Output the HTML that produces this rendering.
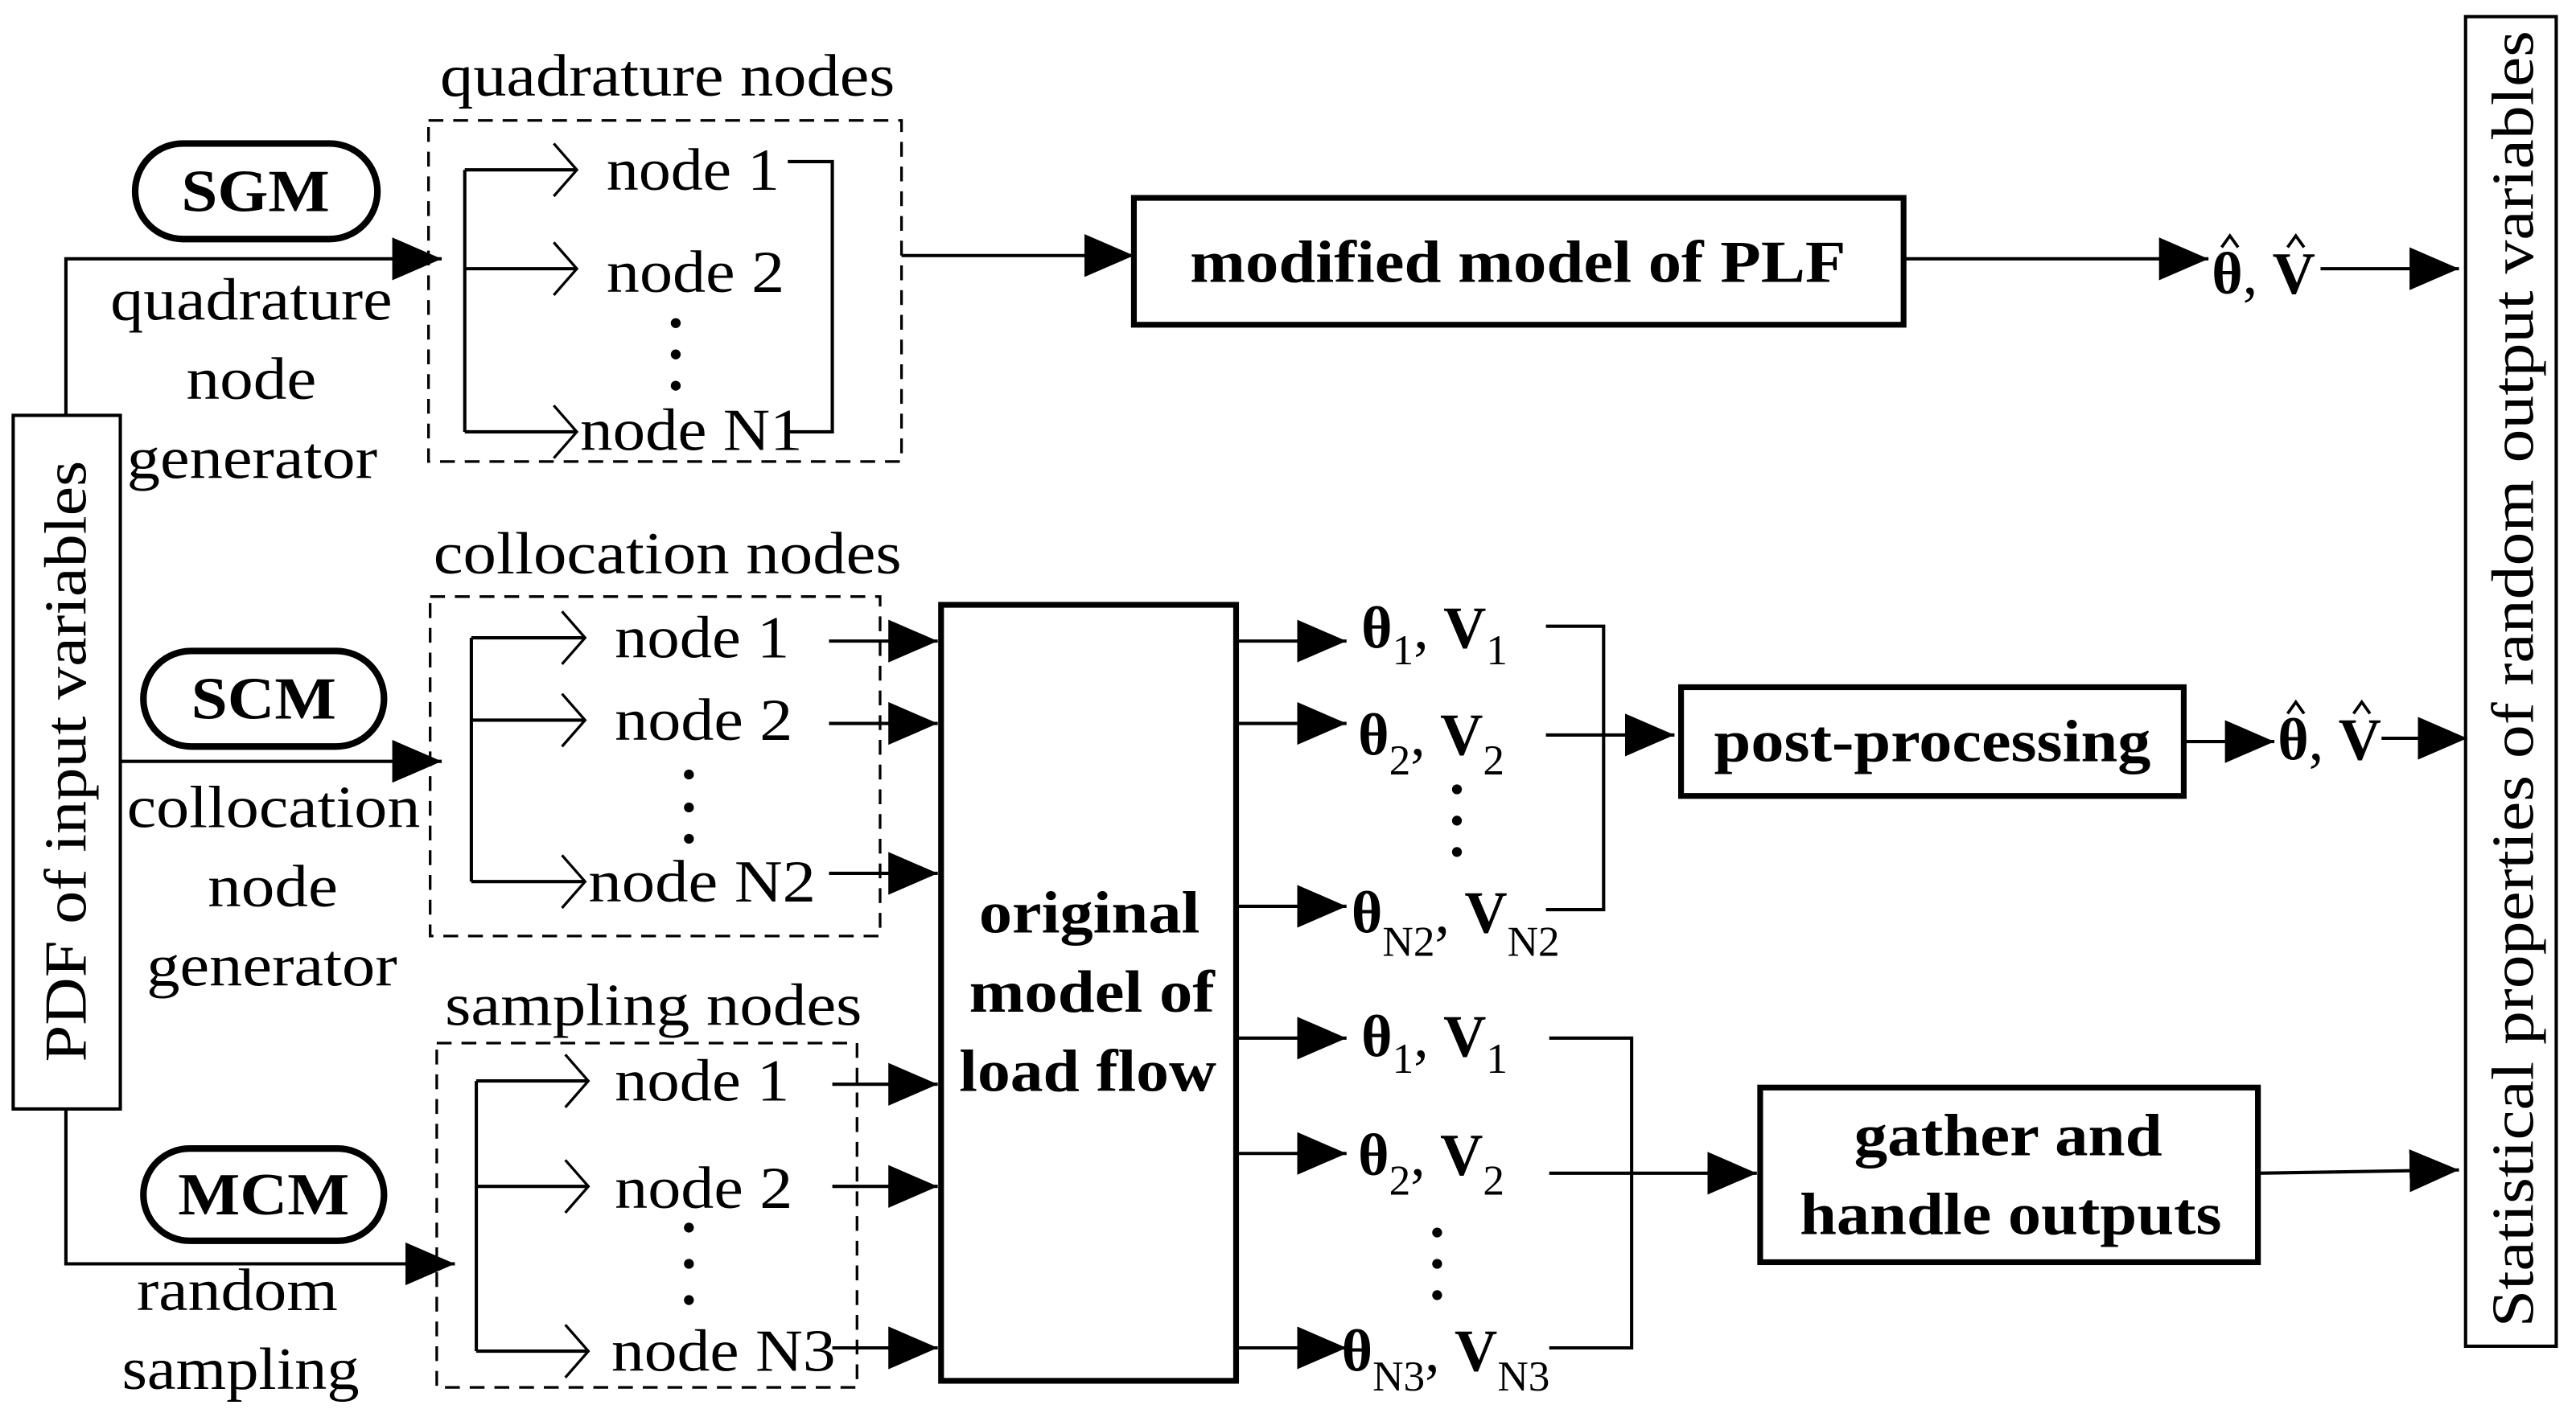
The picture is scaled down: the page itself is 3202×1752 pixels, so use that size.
<!DOCTYPE html>
<html><head><meta charset="utf-8"><style>
html,body{margin:0;padding:0;background:#fff}
svg{display:block}
text{font-family:"Liberation Serif",serif;fill:#000}
.b{font-weight:bold}
</style></head><body>
<svg width="3202" height="1752" viewBox="0 0 1563 855" xmlns="http://www.w3.org/2000/svg">
<defs>
<marker id="a" markerWidth="32" markerHeight="26" refX="30" refY="13" orient="auto" markerUnits="userSpaceOnUse"><path d="M0,0 L30,13 L0,26 Z" fill="#000"/></marker>
<marker id="o" markerWidth="16" markerHeight="34" refX="15" refY="17" orient="auto" markerUnits="userSpaceOnUse"><path d="M1,1 L15,17 L1,33" fill="none" stroke="#000" stroke-width="1.6"/></marker>
</defs>
<g stroke="#000" stroke-width="2" fill="none">
<rect x="8" y="252" width="65" height="421"/>
<path d="M40,252 V157 H268" marker-end="url(#a)"/>
<path d="M73,462 H268" marker-end="url(#a)"/>
<path d="M40,673 V767 H276" marker-end="url(#a)"/>
<rect x="82" y="87" width="147" height="58" rx="29" stroke-width="4"/>
<rect x="87" y="395" width="146" height="58" rx="29" stroke-width="4"/>
<rect x="87" y="697" width="146" height="56" rx="28" stroke-width="4"/>
<rect x="260" y="73" width="287" height="207" stroke-dasharray="9,6" stroke-width="1.6"/>
<rect x="261" y="362" width="273" height="206" stroke-dasharray="9,6" stroke-width="1.6"/>
<rect x="265" y="633" width="255" height="209" stroke-dasharray="9,6" stroke-width="1.6"/>
<path d="M282,103 V262"/>
<path d="M282,103 H350" marker-end="url(#o)"/><path d="M282,163 H350" marker-end="url(#o)"/><path d="M282,262 H350" marker-end="url(#o)"/>
<path d="M478,98 H505 V262 H478"/>
<path d="M547,155 H688" marker-end="url(#a)"/>
<path d="M286,387 V535"/>
<path d="M286,387 H355" marker-end="url(#o)"/><path d="M286,437 H355" marker-end="url(#o)"/><path d="M286,535 H355" marker-end="url(#o)"/>
<path d="M503,389 H569" marker-end="url(#a)"/><path d="M503,439 H569" marker-end="url(#a)"/><path d="M503,530 H569" marker-end="url(#a)"/>
<path d="M289,656 V820"/>
<path d="M289,656 H357" marker-end="url(#o)"/><path d="M289,720 H357" marker-end="url(#o)"/><path d="M289,820 H357" marker-end="url(#o)"/>
<path d="M505,658 H569" marker-end="url(#a)"/><path d="M505,720 H569" marker-end="url(#a)"/><path d="M505,818 H569" marker-end="url(#a)"/>
<rect x="688" y="120" width="467" height="77" stroke-width="3.5"/>
<rect x="571" y="367" width="179" height="471" stroke-width="3.5"/>
<rect x="1020" y="417" width="305" height="66" stroke-width="3.5"/>
<rect x="1068" y="660" width="302" height="106" stroke-width="3.5"/>
<rect x="1496" y="10" width="55" height="807"/>
<path d="M1155,157 H1340" marker-end="url(#a)"/>
<path d="M1408,163 H1492" marker-end="url(#a)"/>
<path d="M750,389 H817" marker-end="url(#a)"/><path d="M750,439 H817" marker-end="url(#a)"/><path d="M750,550 H817" marker-end="url(#a)"/>
<path d="M750,630 H817" marker-end="url(#a)"/><path d="M750,700 H817" marker-end="url(#a)"/><path d="M750,818 H817" marker-end="url(#a)"/>
<path d="M938,380 H973 V552 H938"/>
<path d="M938,446 H1016" marker-end="url(#a)"/>
<path d="M1325,450 H1380" marker-end="url(#a)"/>
<path d="M1445,448 H1497" marker-end="url(#a)"/>
<path d="M940,630 H990 V818 H940"/>
<path d="M940,712 H1066" marker-end="url(#a)"/>
<path d="M1370,712 L1492,710" marker-end="url(#a)"/>
<!-- hats -->
<g stroke-width="1.8">
<path d="M1348,150 L1353,143 L1358,150"/><path d="M1388,150 L1393,143 L1398,150"/>
<path d="M1388,433 L1393,426 L1398,433"/><path d="M1428,433 L1433,426 L1438,433"/>
</g>
</g>
<g fill="#000">
<circle cx="410" cy="196" r="3"/><circle cx="410" cy="215" r="3"/><circle cx="410" cy="234" r="3"/>
<circle cx="418" cy="470" r="3"/><circle cx="418" cy="490" r="3"/><circle cx="418" cy="509" r="3"/>
<circle cx="418" cy="745" r="3"/><circle cx="418" cy="767" r="3"/><circle cx="418" cy="789" r="3"/>
<circle cx="884" cy="479" r="3"/><circle cx="884" cy="498" r="3"/><circle cx="884" cy="517" r="3"/>
<circle cx="872" cy="748" r="3"/><circle cx="872" cy="767" r="3"/><circle cx="872" cy="786" r="3"/>
</g>
<g font-size="36">
<text x="40" y="462" text-anchor="middle" transform="rotate(-90 40 462) translate(0 12)" textLength="365" lengthAdjust="spacingAndGlyphs">PDF of input variables</text>
<text x="1525" y="412" text-anchor="middle" transform="rotate(-90 1525 412) translate(0 12)" textLength="787" lengthAdjust="spacingAndGlyphs">Statistical properties of random output  variables</text>
<text class="b" x="110" y="128" textLength="90" lengthAdjust="spacingAndGlyphs">SGM</text>
<text class="b" x="116" y="436" textLength="88" lengthAdjust="spacingAndGlyphs">SCM</text>
<text class="b" x="108" y="737" textLength="104" lengthAdjust="spacingAndGlyphs">MCM</text>
<text x="67" y="194" textLength="171" lengthAdjust="spacingAndGlyphs">quadrature</text>
<text x="113" y="242" textLength="79" lengthAdjust="spacingAndGlyphs">node</text>
<text x="77" y="290" textLength="152" lengthAdjust="spacingAndGlyphs">generator</text>
<text x="77" y="502" textLength="178" lengthAdjust="spacingAndGlyphs">collocation</text>
<text x="126" y="550" textLength="79" lengthAdjust="spacingAndGlyphs">node</text>
<text x="89" y="598" textLength="152" lengthAdjust="spacingAndGlyphs">generator</text>
<text x="83" y="795" textLength="122" lengthAdjust="spacingAndGlyphs">random</text>
<text x="74" y="843" textLength="144" lengthAdjust="spacingAndGlyphs">sampling</text>
<text x="267" y="58" textLength="276" lengthAdjust="spacingAndGlyphs">quadrature nodes</text>
<text x="263" y="348" textLength="284" lengthAdjust="spacingAndGlyphs">collocation nodes</text>
<text x="270" y="622" textLength="253" lengthAdjust="spacingAndGlyphs">sampling nodes</text>
<text x="368" y="115" textLength="105" lengthAdjust="spacingAndGlyphs">node 1</text>
<text x="368" y="177" textLength="108" lengthAdjust="spacingAndGlyphs">node 2</text>
<text x="352" y="273" textLength="135" lengthAdjust="spacingAndGlyphs">node N1</text>
<text x="373" y="399" textLength="106" lengthAdjust="spacingAndGlyphs">node 1</text>
<text x="373" y="449" textLength="108" lengthAdjust="spacingAndGlyphs">node 2</text>
<text x="357" y="547" textLength="138" lengthAdjust="spacingAndGlyphs">node N2</text>
<text x="373" y="668" textLength="106" lengthAdjust="spacingAndGlyphs">node 1</text>
<text x="373" y="733" textLength="108" lengthAdjust="spacingAndGlyphs">node 2</text>
<text x="371" y="832" textLength="136" lengthAdjust="spacingAndGlyphs">node N3</text>
<text class="b" x="722" y="171" textLength="398" lengthAdjust="spacingAndGlyphs">modified model of PLF</text>
<text class="b" x="1040" y="462" textLength="265" lengthAdjust="spacingAndGlyphs">post-processing</text>
<text class="b" x="1125" y="701" textLength="187" lengthAdjust="spacingAndGlyphs">gather and</text>
<text class="b" x="1092" y="749" textLength="256" lengthAdjust="spacingAndGlyphs">handle outputs</text>
<text class="b" x="594" y="566" textLength="134" lengthAdjust="spacingAndGlyphs">original</text>
<text class="b" x="588" y="614" textLength="149" lengthAdjust="spacingAndGlyphs">model of</text>
<text class="b" x="582" y="662" textLength="156" lengthAdjust="spacingAndGlyphs">load flow</text>
<text x="1342" y="178" class="b">θ<tspan font-weight="normal">,</tspan> V</text>
<text x="1382" y="461" class="b">θ<tspan font-weight="normal">,</tspan> V</text>
<text x="826" y="393"><tspan class="b">θ</tspan><tspan font-size="26" dy="10">1</tspan><tspan dy="-10">, </tspan><tspan class="b">V</tspan><tspan font-size="26" dy="10">1</tspan></text>
<text x="824" y="458"><tspan class="b">θ</tspan><tspan font-size="26" dy="12">2</tspan><tspan dy="-12">, </tspan><tspan class="b">V</tspan><tspan font-size="26" dy="12">2</tspan></text>
<text x="820" y="566"><tspan class="b">θ</tspan><tspan font-size="26" dy="14">N2</tspan><tspan dy="-14">, </tspan><tspan class="b">V</tspan><tspan font-size="26" dy="14">N2</tspan></text>
<text x="826" y="641"><tspan class="b">θ</tspan><tspan font-size="26" dy="10">1</tspan><tspan dy="-10">, </tspan><tspan class="b">V</tspan><tspan font-size="26" dy="10">1</tspan></text>
<text x="824" y="713"><tspan class="b">θ</tspan><tspan font-size="26" dy="12">2</tspan><tspan dy="-12">, </tspan><tspan class="b">V</tspan><tspan font-size="26" dy="12">2</tspan></text>
<text x="814" y="832"><tspan class="b">θ</tspan><tspan font-size="26" dy="12">N3</tspan><tspan dy="-12">, </tspan><tspan class="b">V</tspan><tspan font-size="26" dy="12">N3</tspan></text>
</g>
</svg>
</body></html>
